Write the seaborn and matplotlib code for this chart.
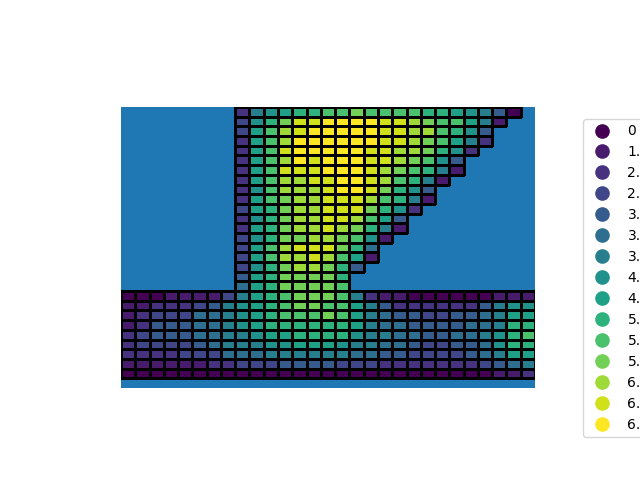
import matplotlib
matplotlib.use("Agg")
import matplotlib.pyplot as plt
import numpy as np
import seaborn as sns
from matplotlib.lines import Line2D

# stress level per cell (0..14), upper part starts at column 8
STEM_START = 8
STEM_ROWS = [
    [2, 6, 7, 8, 9, 9, 10, 10, 11, 10, 10, 10, 10, 9, 9, 8, 7, 6, 4, 0],
    [3, 7, 9, 11, 13, 13, 14, 14, 14, 14, 13, 13, 12, 11, 10, 10, 8, 6, 1],
    [3, 8, 10, 12, 13, 14, 14, 14, 14, 14, 13, 13, 12, 12, 10, 9, 7, 4],
    [2, 8, 10, 12, 14, 14, 14, 14, 14, 14, 13, 13, 12, 11, 10, 8, 6, 2],
    [2, 8, 10, 13, 14, 14, 14, 14, 14, 13, 13, 12, 12, 11, 9, 7, 2],
    [2, 8, 10, 12, 14, 13, 14, 14, 14, 13, 13, 12, 11, 10, 7, 4],
    [2, 8, 10, 13, 13, 13, 14, 14, 14, 13, 12, 11, 10, 9, 6, 1],
    [2, 8, 10, 12, 12, 13, 13, 14, 14, 13, 12, 10, 9, 6, 1],
    [2, 7, 10, 12, 12, 12, 13, 14, 14, 13, 11, 9, 7, 4],
    [2, 8, 10, 11, 12, 12, 13, 13, 13, 12, 10, 9, 6, 1],
    [3, 8, 9, 11, 12, 12, 13, 13, 13, 11, 9, 7, 2],
    [2, 7, 9, 11, 12, 12, 13, 13, 12, 10, 8, 4],
    [2, 8, 9, 11, 12, 12, 13, 12, 11, 9, 6, 1],
    [3, 7, 9, 11, 11, 12, 12, 11, 10, 7, 1],
    [3, 8, 10, 12, 13, 13, 13, 11, 9, 5],
    [3, 8, 10, 12, 12, 13, 12, 10, 8, 1],
    [3, 7, 9, 11, 12, 12, 11, 9, 4],
    [4, 8, 9, 11, 11, 11, 11, 9],
    [5, 8, 9, 11, 11, 11, 11, 10],
]

# lower block, full width (29 columns)
BASE_ROWS = [
    [0, 0, 0, 1, 1, 1, 1, 3, 6, 8, 9, 10, 11, 11, 11, 10, 6, 2, 1, 1, 0, 0, 0, 0, 0, 0, 1, 1, 1],
    [1, 1, 2, 2, 2, 3, 4, 6, 7, 8, 9, 10, 11, 11, 10, 10, 8, 6, 4, 2, 2, 2, 2, 2, 2, 4, 6, 7, 7],
    [1, 2, 3, 3, 3, 5, 5, 6, 7, 8, 9, 10, 10, 10, 11, 10, 8, 6, 5, 4, 4, 3, 3, 4, 4, 5, 6, 8, 8],
    [1, 2, 4, 4, 4, 5, 5, 6, 7, 8, 9, 9, 9, 9, 9, 9, 8, 6, 5, 5, 4, 4, 4, 4, 5, 5, 6, 9, 9],
    [2, 3, 4, 4, 4, 5, 5, 6, 6, 7, 8, 8, 9, 9, 9, 9, 7, 6, 6, 5, 5, 4, 4, 5, 5, 6, 7, 9, 10],
    [2, 3, 3, 3, 3, 4, 5, 6, 6, 6, 7, 7, 8, 8, 8, 7, 6, 6, 5, 5, 4, 3, 3, 4, 4, 5, 7, 9, 9],
    [2, 2, 2, 2, 3, 3, 3, 5, 5, 5, 6, 6, 6, 6, 6, 6, 5, 5, 4, 4, 3, 3, 3, 3, 4, 5, 6, 8, 8],
    [1, 1, 1, 1, 1, 1, 2, 2, 3, 3, 3, 4, 4, 4, 4, 3, 3, 3, 2, 2, 2, 2, 2, 2, 2, 3, 4, 5, 6],
    [0, 0, 0, 0, 0, 0, 0, 0, 0, 0, 0, 0, 0, 0, 0, 0, 0, 0, 0, 0, 0, 0, 0, 0, 0, 0, 1, 1, 2],
]

LEGEND_VALUES = [
    0, 1.6035674514745464, 2.2677868380553634, 2.7774602993176543,
    3.2071349029490928, 3.5856858280031814, 3.927922024247863,
    4.242640687119285, 4.535573676110727, 5.07092552837110,
    5.318295896944989, 5.554920598635309, 6.0, 6.2048368229954285,
    6.6332495807108,
]

N_COLS = 29
N_ROWS = len(STEM_ROWS) + len(BASE_ROWS) + 1  # one empty row below the mesh
N_LEVELS = 15


def build_grid() -> np.ndarray:
    grid = np.full((N_ROWS, N_COLS), np.nan)
    for r, row in enumerate(STEM_ROWS):
        grid[r, STEM_START:STEM_START + len(row)] = row
    for i, row in enumerate(BASE_ROWS):
        grid[len(STEM_ROWS) + i, :] = row
    return grid


def main() -> None:
    grid = build_grid()
    empty = np.isnan(grid)
    fig = plt.figure(figsize=(6.4, 4.8), dpi=100)
    ax = fig.add_axes([121 / 640, 92 / 480, 414 / 640, 281 / 480])
    ax.set_facecolor("#1f77b4")

    sns.heatmap(
        grid,
        mask=empty,
        cmap="viridis",
        vmin=0,
        vmax=N_LEVELS - 1,
        linewidths=0.75,
        linecolor="black",
        cbar=False,
        xticklabels=False,
        yticklabels=False,
        ax=ax,
    )
    # no outline on empty cells
    mesh = ax.collections[0]
    edges = np.zeros((empty.size, 4))
    edges[~empty.ravel(), 3] = 1.0
    mesh.set_edgecolor(edges)

    colors = plt.get_cmap("viridis")(np.linspace(0, 1, N_LEVELS))
    handles = [
        Line2D([], [], marker="o", linestyle="", color=c, markersize=9.5)
        for c in colors
    ]
    labels = [str(v) for v in LEGEND_VALUES]
    ax.legend(
        handles,
        labels,
        loc="center left",
        bbox_to_anchor=(583 / 640, 1 - 278 / 480),
        bbox_transform=fig.transFigure,
        borderaxespad=0,
    )

    fig.savefig("out.png", dpi=100)
    plt.close(fig)


if __name__ == "__main__":
    main()
